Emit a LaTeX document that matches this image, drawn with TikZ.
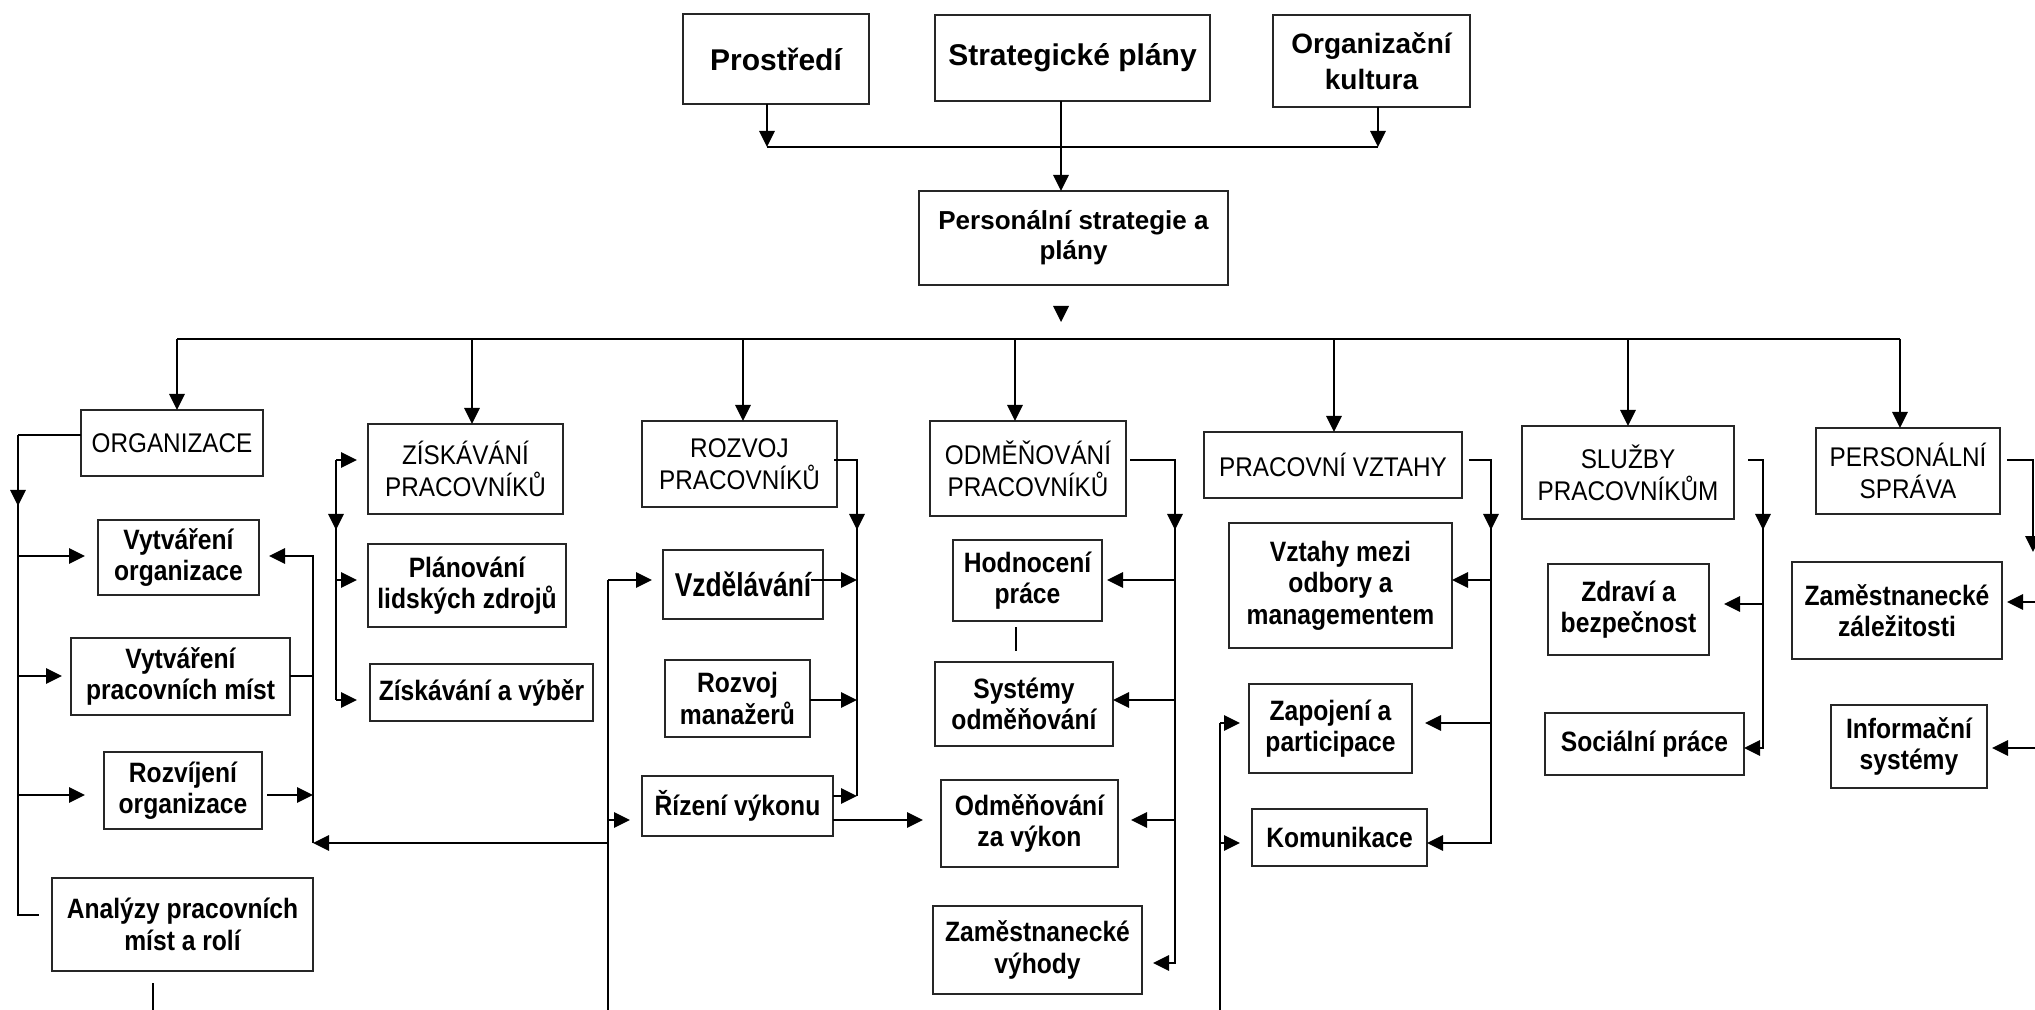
\documentclass[tikz,border=0pt]{standalone}
\usepackage{fontspec}
\setmainfont{Liberation Sans}
\newfontfamily\subfont{Liberation Sans Bold}[FakeStretch=0.88]
\newfontfamily\hdrfont{Liberation Sans}[FakeStretch=0.9]
\newfontfamily\narrowfont{Liberation Sans Bold}[FakeStretch=0.8]
\newfontfamily\topfont{Liberation Sans Bold}
\usetikzlibrary{arrows.meta,calc}
\newcommand\bx[7]{\node[#1, minimum width={(#5-#3)*0.5pt}, minimum height={(#6-#4)*0.5pt}] (#2) at ({(#3+#5)/2},{(#4+#6)/2}) {#7};}
\tikzset{
  box/.style={draw=black!85, line width=1.2pt, inner sep=0pt, outer sep=0pt, align=center, fill=white, text=black},
  topb/.style={box, font=\topfont\fontsize{15}{17}\selectfont},
  topc/.style={box, font=\topfont\fontsize{14}{18}\selectfont},
  topd/.style={box, font=\topfont\fontsize{13}{15}\selectfont},
  hdr/.style={box, font=\hdrfont\fontsize{13.5}{16}\selectfont},
  sub/.style={box, font=\subfont\fontsize{14}{15.8}\selectfont},
  vzdb/.style={box, font=\narrowfont\fontsize{16.5}{18}\selectfont},
  conn/.style={line width=1.4pt, black},
  thinl/.style={line width=0.8pt, black},
  arr/.style={conn, -{Triangle[length=8pt,width=7.5pt]}},
}
\begin{document}
\begin{tikzpicture}[x=0.5pt,y=-0.5pt]
\useasboundingbox (0,0) rectangle (2035,1010);
\fill[white] (0,0) rectangle (2035,1010);
\clip (0,0) rectangle (2035,1010);
% ---- top
\bx{topb}{prost}{683}{14}{869}{104}{Prostředí}
\bx{topb}{strat}{935}{15}{1210}{101}{Strategické plány}
\bx{topc}{kult}{1273}{15}{1470}{107}{Organizační\\kultura}
\bx{topd}{pers}{919}{191}{1228}{285}{Personální strategie a\\plány}
% ---- headers
\bx{hdr}{org}{81}{410}{263}{476}{ORGANIZACE}
\bx{hdr}{zisk}{368}{424}{563}{514}{ZÍSKÁVÁNÍ\\PRACOVNÍKŮ}
\bx{hdr}{rozv}{642}{421}{837}{507}{ROZVOJ\\PRACOVNÍKŮ}
\bx{hdr}{odm}{930}{421}{1126}{516}{ODMĚŇOVÁNÍ\\PRACOVNÍKŮ}
\bx{hdr}{prv}{1204}{432}{1462}{498}{PRACOVNÍ VZTAHY}
\bx{hdr}{sluz}{1522}{426}{1734}{519}{SLUŽBY\\PRACOVNÍKŮM}
\bx{hdr}{sprav}{1816}{428}{2000}{514}{PERSONÁLNÍ\\SPRÁVA}
% ---- sub items
\bx{sub}{vo}{98}{520}{259}{595}{Vytváření\\organizace}
\bx{sub}{vpm}{71}{638}{290}{715}{Vytváření\\pracovních míst}
\bx{sub}{ro}{104}{752}{262}{829}{Rozvíjení\\organizace}
\bx{sub}{an}{52}{878}{313}{971}{Analýzy pracovních\\míst a rolí}
\bx{sub}{plz}{368}{544}{566}{627}{Plánování\\lidských zdrojů}
\bx{sub}{zv}{370}{664}{593}{721}{Získávání a výběr}
\bx{vzdb}{vzd}{663}{550}{823}{619}{Vzdělávání}
\bx{sub}{rm}{665}{660}{810}{737}{Rozvoj\\manažerů}
\bx{sub}{riz}{642}{776}{833}{836}{Řízení výkonu}
\bx{sub}{hp}{953}{540}{1102}{621}{Hodnocení\\práce}
\bx{sub}{so}{935}{662}{1113}{746}{Systémy\\odměňování}
\bx{sub}{ozv}{941}{780}{1118}{867}{Odměňování\\za výkon}
\bx{sub}{zvy}{933}{906}{1142}{994}{Zaměstnanecké\\výhody}
\bx{sub}{vmo}{1229}{523}{1452}{648}{Vztahy mezi\\odbory a\\managementem}
\bx{sub}{zap}{1249}{684}{1412}{773}{Zapojení a\\participace}
\bx{sub}{kom}{1252}{809}{1427}{866}{Komunikace}
\bx{sub}{zdr}{1548}{564}{1709}{655}{Zdraví a\\bezpečnost}
\bx{sub}{soc}{1545}{713}{1744}{775}{Sociální práce}
\bx{sub}{zz}{1792}{562}{2002}{659}{Zaměstnanecké\\záležitosti}
\bx{sub}{is}{1831}{705}{1987}{788}{Informační\\systémy}
% ---- top connectors
\coordinate (tj1) at (767,147);
\coordinate (tj2) at (1378,147);
\coordinate (sx) at (1061,0);
\draw[arr] (prost.south -| tj1) -- (tj1);
\draw[arr] (kult.south -| tj2) -- (tj2);
\draw[conn] (tj1) -- (tj2);
\draw[arr] (strat.south -| sx) -- (pers.north -| sx);
\fill (1053,306) -- (1069,306) -- (1061,322) -- cycle;
% ---- distribution line
\coordinate (d1) at (177,339);
\coordinate (d7) at (1900,339);
\draw[conn] (d1) -- (d7);
\foreach \n/\x in {org/177,zisk/472,rozv/743,odm/1015,prv/1334,sluz/1628,sprav/1900}
  \draw[arr] (\x,339) -- (\n.north -| \x,0);
% ---- ORGANIZACE
\coordinate (oL1) at (18,435);
\draw[thinl] (org.west |- oL1) -- (oL1);
\draw[arr] (oL1) -- (18,506);
\draw[conn] (18,500) -- (18,915) -- (39,915);
\draw[arr, shorten >=6.5pt] (18,556) -- (vo.west |- 18,556);
\draw[arr, shorten >=4.5pt] (18,676) -- (vpm.west |- 18,676);
\draw[arr, shorten >=9.5pt] (18,795) -- (ro.west |- 18,795);
\draw[arr, shorten >=5pt] (313,843) -- (313,556) -- (vo.east |- 313,556);
\draw[conn] (vpm.east |- 313,676) -- (313,676);
\draw[arr, shorten <=2.5pt] (ro.east |- 313,795) -- (313,795);
\coordinate (anb) at (153,1010);
\draw[thinl, shorten <=6pt] (an.south -| anb) -- (anb);
% ---- left long vertical
\coordinate (b608) at (608,1010);
\draw[conn] (608,580) -- (b608);
\draw[arr, shorten >=5.5pt] (608,580) -- (vzd.west |- 608,580);
\draw[arr, shorten >=6pt] (608,820) -- (riz.west |- 608,820);
\draw[arr] (608,843) -- (313,843);
% ---- ZISKAVANI
\draw[arr] (336,460) -- (336,530);
\draw[conn] (336,524) -- (336,700);
\draw[arr, shorten >=5.5pt] (336,460) -- (zisk.west |- 336,460);
\draw[arr, shorten >=5.5pt] (336,580) -- (plz.west |- 336,580);
\draw[arr, shorten >=6.5pt] (336,700) -- (zv.west |- 336,700);
% ---- ROZVOJ
\draw[arr, shorten <=-1.5pt] (rozv.east |- 857,460) -- (857,460) -- (857,530);
\draw[conn] (857,524) -- (857,796);
\draw[arr, shorten <=-6pt] (vzd.east |- 857,580) -- (857,580);
\draw[arr] (rm.east |- 857,700) -- (857,700);
\draw[arr] (riz.east |- 857,796) -- (857,796);
\draw[arr, shorten >=9pt] (riz.east |- 857,820) -- (ozv.west |- 857,820);
% ---- ODMENOVANI
\draw[arr, shorten <=2pt] (odm.east |- 1175,460) -- (1175,460) -- (1175,530);
\draw[arr, shorten >=5.5pt] (1175,524) -- (1175,963) -- (zvy.east |- 1175,963);
\draw[arr, shorten >=2.5pt] (1175,580) -- (hp.east |- 1175,580);
\draw[arr] (1175,700) -- (so.east |- 1175,700);
\draw[arr, shorten >=6.5pt] (1175,820) -- (ozv.east |- 1175,820);
\coordinate (m1) at (1016,0);
\draw[thinl, shorten <=3pt, shorten >=5.5pt] (hp.south -| m1) -- (so.north -| m1);
% ---- PRACOVNI VZTAHY
\draw[arr, shorten <=3.5pt] (prv.east |- 1491,460) -- (1491,460) -- (1491,530);
\draw[arr] (1491,524) -- (1491,843) -- (kom.east |- 1491,843);
\draw[arr] (1491,580) -- (vmo.east |- 1491,580);
\draw[arr, shorten >=6.5pt] (1491,723) -- (zap.east |- 1491,723);
\coordinate (b1220) at (1220,1010);
\draw[conn] (1220,723) -- (b1220);
\draw[arr, shorten >=4.5pt] (1220,723) -- (zap.west |- 1220,723);
\draw[arr, shorten >=6pt] (1220,843) -- (kom.west |- 1220,843);
% ---- SLUZBY
\draw[arr, shorten <=7pt] (sluz.east |- 1763,460) -- (1763,460) -- (1763,530);
\draw[arr] (1763,524) -- (1763,748) -- (soc.east |- 1763,748);
\draw[arr, shorten >=7.5pt] (1763,604) -- (zdr.east |- 1763,604);
% ---- PERSONALNI SPRAVA
\draw[arr, shorten <=3.5pt] (sprav.east |- 2033,460) -- (2033,460) -- (2033,552);
\draw[arr, shorten >=2.5pt] (2040,602) -- (zz.east |- 2040,602);
\draw[arr, shorten >=2.5pt] (2040,748) -- (is.east |- 2040,748);
\end{tikzpicture}
\end{document}
